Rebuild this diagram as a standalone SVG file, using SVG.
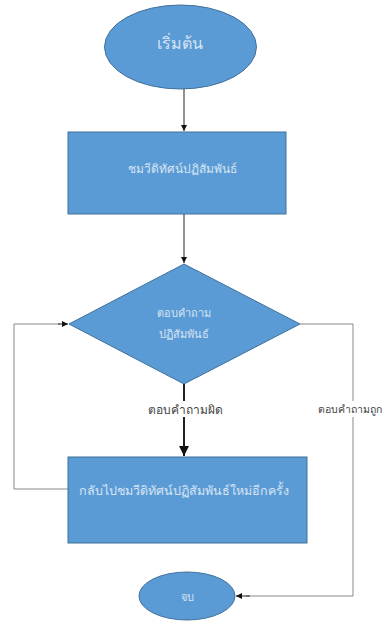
<svg xmlns="http://www.w3.org/2000/svg" width="390" height="621" viewBox="0 0 390 621">
<style>
.shape{fill:#5B9BD5;stroke:#41719C;stroke-width:1}
.in{font-family:"Noto Sans","DejaVu Sans",sans-serif;fill:#D6E4F3;text-anchor:middle;dominant-baseline:central}
.lbl{font-family:"Noto Sans","DejaVu Sans",sans-serif;fill:#444;font-size:12px;text-anchor:middle;dominant-baseline:central}
.ln{fill:none;stroke:#888;stroke-width:1}
.ar{fill:none;stroke:#222;stroke-width:1}
</style>
<defs>
<marker id="ah" viewBox="0 0 10 10" refX="10" refY="5" markerWidth="6" markerHeight="6" markerUnits="userSpaceOnUse" orient="auto">
<path d="M0,0 L10,5 L0,10 z" fill="#111"/>
</marker>
<marker id="ahb" viewBox="0 0 10 10" refX="10" refY="5" markerWidth="5" markerHeight="5" orient="auto">
<path d="M0,0 L10,5 L0,10 z" fill="#111"/>
</marker>
</defs>
<rect width="390" height="621" fill="#fff"/>
<g id="connectors">
<line class="ar" x1="184" y1="89" x2="184" y2="131" marker-end="url(#ah)"/>
<line class="ar" x1="184" y1="214" x2="184" y2="263" marker-end="url(#ah)"/>
<line x1="184" y1="384" x2="184" y2="456" stroke="#222" stroke-width="2" marker-end="url(#ahb)"/>
<polyline class="ln" points="68,489 14,489 14,324 60,324"/>
<line class="ar" x1="58" y1="324" x2="68" y2="324" marker-end="url(#ah)"/>
<polyline class="ln" points="300,324 353,324 353,596 246,596"/>
<line class="ar" x1="250" y1="596" x2="236" y2="596" marker-end="url(#ah)"/>
<rect x="144" y="401" width="82" height="16" fill="#fff"/>
<text class="lbl" x="185" y="409">ตอบคำถามผิด</text>
<rect x="316" y="401" width="74" height="16" fill="#fff"/>
<text class="lbl" x="318" y="409" font-size="10.5" style="text-anchor:start;font-size:10.5px">ตอบคำถามถูก</text>
</g>
<g id="start">
<ellipse class="shape" cx="180.5" cy="47" rx="76" ry="42"/>
<text class="in" x="180" y="43" font-size="16" fill="#EEF4FB">เริ่มต้น</text>
</g>
<g id="watch">
<rect class="shape" x="68" y="132" width="218" height="82"/>
<text class="in" x="182" y="168" font-size="12">ชมวีดิทัศน์ปฏิสัมพันธ์</text>
</g>
<g id="decision">
<polygon class="shape" points="184,264 300,324 184,384 69,324"/>
<text class="in" x="184" y="312" font-size="11">ตอบคำถาม</text>
<text class="in" x="184" y="333" font-size="11">ปฏิสัมพันธ์</text>
</g>
<g id="rewatch">
<rect class="shape" x="68" y="457" width="239" height="86"/>
<text class="in" x="184" y="490" font-size="12.5">กลับไปชมวีดิทัศน์ปฏิสัมพันธ์ใหม่อีกครั้ง</text>
</g>
<g id="end">
<ellipse class="shape" cx="187" cy="596" rx="48" ry="24"/>
<text class="in" x="187" y="596" font-size="11">จบ</text>
</g>
</svg>
